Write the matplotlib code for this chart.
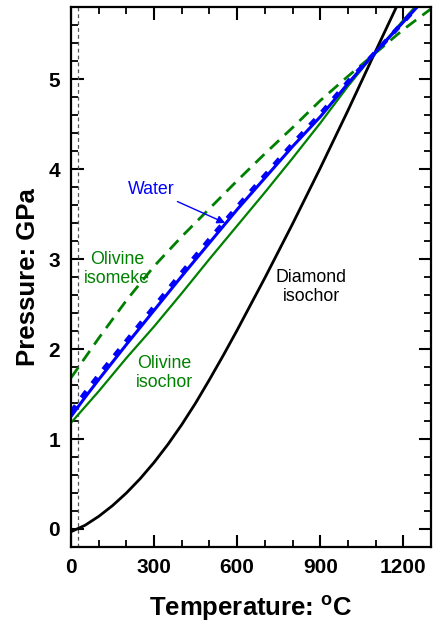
import matplotlib
matplotlib.use("Agg")
import matplotlib.pyplot as plt

plt.rcParams['font.family'] = ['Liberation Sans', 'DejaVu Sans']

# Temperatures in degrees C, pressures in GPa
diamond_T = [0, 50, 100, 150, 200, 250, 300, 350, 400, 450, 500, 550, 600, 650, 700,
             750, 800, 850, 900, 950, 1000, 1050, 1100, 1175]
diamond_P = [-0.03, 0.04, 0.14, 0.26, 0.40, 0.56, 0.74, 0.94, 1.16, 1.40, 1.66, 1.93,
             2.21, 2.50, 2.79, 3.09, 3.39, 3.70, 4.01, 4.33, 4.65, 4.98, 5.31, 5.80]

olivine_isochor_T = [0, 100, 200, 300, 400, 500, 600, 700, 800, 900, 1000, 1100, 1250]
olivine_isochor_P = [1.18, 1.53, 1.90, 2.25, 2.62, 3.00, 3.37, 3.74, 4.12, 4.51, 4.92, 5.30, 5.83]

olivine_isomeke_T = [0, 100, 200, 300, 400, 500, 600, 700, 800, 900, 1000, 1100, 1200, 1300]
olivine_isomeke_P = [1.68, 2.12, 2.54, 2.92, 3.25, 3.56, 3.87, 4.17, 4.46, 4.76, 5.03, 5.29, 5.55, 5.78]

water_T = [0, 50, 100, 200, 300, 400, 500, 600, 700, 800, 900, 1000, 1100, 1250]
water_P = [1.25, 1.46, 1.66, 2.05, 2.43, 2.81, 3.18, 3.55, 3.90, 4.25, 4.58, 4.95, 5.30, 5.80]

water2_T = [0, 50, 100, 200, 300, 400, 500, 600, 700, 800, 900, 1000, 1100, 1250]
water2_P = [1.30, 1.51, 1.71, 2.09, 2.47, 2.85, 3.22, 3.58, 3.93, 4.28, 4.61, 4.97, 5.30, 5.80]

room_T = 25

x_ticks = [0, 300, 600, 900, 1200]
y_ticks = [0, 1, 2, 3, 4, 5]

BLUE = '#0000ff'
GREEN = '#008000'

fig = plt.figure(figsize=(4.33, 6.27), dpi=100)
ax = fig.add_axes([0.164, 0.1276, 0.8314, 0.8612])

ax.axvline(room_T, color='#555555', lw=0.9, ls=(0, (3, 2.5)))

ax.plot(diamond_T, diamond_P, color='black', lw=2.0)
ax.plot(olivine_isochor_T, olivine_isochor_P, color=GREEN, lw=1.6)
ax.plot(olivine_isomeke_T, olivine_isomeke_P, color=GREEN, lw=2.0, ls=(0, (4.5, 2.8)))
ax.plot(water_T, water_P, color=BLUE, lw=2.2)
ax.plot(water2_T, water2_P, color=BLUE, lw=3.2, ls=(0, (1.8, 2.2)))

# curve labels
ax.text(867, 2.69, 'Diamond\nisochor', ha='center', va='center',
        fontsize=12.8, color='black', linespacing=1.15)
ax.text(336, 1.73, 'Olivine\nisochor', ha='center', va='center',
        fontsize=12.8, color=GREEN, linespacing=1.15)
ax.text(166, 2.89, 'Olivine\nisomeke', ha='center', va='center',
        fontsize=12.8, color=GREEN, linespacing=1.15)
ax.annotate('Water', xy=(557, 3.40), xytext=(289, 3.77),
            ha='center', va='center', fontsize=12.8, color=BLUE,
            arrowprops=dict(arrowstyle='-|>', color=BLUE, lw=1.0,
                            mutation_scale=12, shrinkA=1, shrinkB=0))

ax.set_xlim(0, 1300)
ax.set_ylim(-0.2, 5.8)
ax.set_xticks(x_ticks)
ax.set_yticks(y_ticks)
ax.set_xticks(range(0, 1301, 100), minor=True)
ax.set_yticks([i * 0.2 - 0.2 for i in range(31)], minor=True)

for lab in ax.get_xticklabels() + ax.get_yticklabels():
    lab.set_fontweight('bold')
ax.tick_params(which='major', direction='in', length=9, width=1.5,
               top=True, right=True, labelsize=15, pad=8)
ax.tick_params(which='minor', direction='in', length=5, width=1.3,
               top=True, right=True)
for s in ax.spines.values():
    s.set_linewidth(1.6)

ax.set_xlabel('Temperature: $^{\\mathregular{o}}$C', fontsize=18.5, fontweight='bold', labelpad=12)
ax.set_ylabel('Pressure: GPa', fontsize=18.5, fontweight='bold', labelpad=6)

fig.savefig('out.png', dpi=100)
